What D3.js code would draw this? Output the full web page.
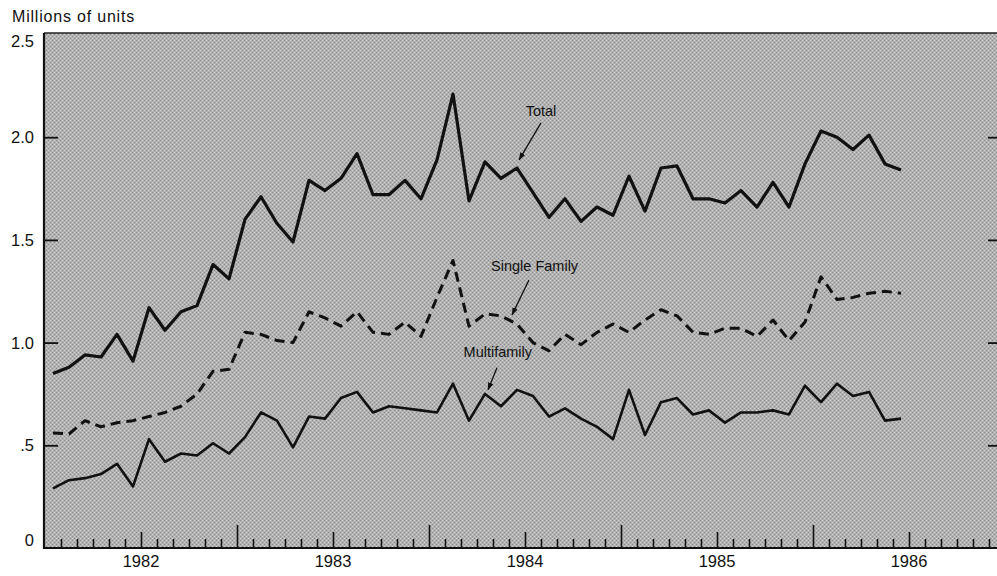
<!DOCTYPE html>
<html><head><meta charset="utf-8">
<script src="https://cdn.jsdelivr.net/npm/d3@7"></script>
<style>body{margin:0;background:#fff;} svg{display:block;}</style>
</head><body><svg id="c" width="997" height="576"></svg>
<script>
// months Jan 1982 .. Jun 1986 (index 0..53)
const months = ["1982-01","1982-02","1982-03","1982-04","1982-05","1982-06","1982-07","1982-08","1982-09","1982-10","1982-11","1982-12",
"1983-01","1983-02","1983-03","1983-04","1983-05","1983-06","1983-07","1983-08","1983-09","1983-10","1983-11","1983-12",
"1984-01","1984-02","1984-03","1984-04","1984-05","1984-06","1984-07","1984-08","1984-09","1984-10","1984-11","1984-12",
"1985-01","1985-02","1985-03","1985-04","1985-05","1985-06","1985-07","1985-08","1985-09","1985-10","1985-11","1985-12",
"1986-01","1986-02","1986-03","1986-04","1986-05","1986-06"];
const total = [0.85,0.88,0.94,0.93,1.04,0.91,1.17,1.06,1.15,1.18,1.38,1.31,
1.60,1.71,1.58,1.49,1.79,1.74,1.80,1.92,1.72,1.72,1.79,1.70,
1.89,2.21,1.69,1.88,1.80,1.85,1.73,1.61,1.70,1.59,1.66,1.62,
1.81,1.64,1.85,1.86,1.70,1.70,1.68,1.74,1.66,1.78,1.66,1.87,
2.03,2.00,1.94,2.01,1.87,1.84];
const singleFamily = [0.56,0.555,0.62,0.59,0.61,0.62,0.64,0.66,0.69,0.75,0.86,0.87,
1.05,1.04,1.01,1.00,1.15,1.12,1.08,1.15,1.05,1.04,1.10,1.03,
1.22,1.40,1.08,1.14,1.13,1.09,1.00,0.96,1.04,0.99,1.05,1.09,
1.05,1.11,1.16,1.13,1.05,1.04,1.07,1.07,1.03,1.11,1.01,1.10,
1.32,1.21,1.22,1.24,1.25,1.24];
const multifamily = [0.29,0.33,0.34,0.36,0.41,0.30,0.53,0.42,0.46,0.45,0.51,0.46,
0.54,0.66,0.62,0.49,0.64,0.63,0.73,0.76,0.66,0.69,0.68,0.67,
0.66,0.80,0.62,0.75,0.69,0.77,0.74,0.64,0.68,0.63,0.59,0.53,
0.77,0.55,0.71,0.73,0.65,0.67,0.61,0.66,0.66,0.67,0.65,0.79,
0.71,0.80,0.74,0.76,0.62,0.63];
const yearLabels = ["1982","1983","1984","1985","1986"];
const yTicks = [0, 0.5, 1.0, 1.5, 2.0, 2.5];
const yTickLabels = ["0", ".5", "1.0", "1.5", "2.0", "2.5"];
const unitLabel = "Millions of units";
// annotations: label position and arrow tail/tip in (month, value) units
const annotations = [
  {text:"Total", lm:31.0, lv:2.104, tm:31.0, tv:2.07, pm:29.63, pv:1.89},
  {text:"Single Family", lm:30.6, lv:1.349, tm:30.25, tv:1.305, pm:29.19, pv:1.135},
  {text:"Multifamily", lm:28.3, lv:0.930, tm:28.25, tv:0.877, pm:27.69, pv:0.770}
];

const svg = d3.select("#c");
const L = 44, R = 997, T = 33, B = 548;
const FONT = "'Liberation Sans', Arial, Helvetica, sans-serif";
const x = d3.scaleLinear().domain([0, (R - 45) / 16]).range([45, R]);
const y = d3.scaleLinear().domain([0, 2.5]).range([B, 34.5]);

// defs
const defs = svg.append("defs");
defs.append("marker").attr("id","arr").attr("viewBox","0 0 10 10").attr("refX",9).attr("refY",5)
  .attr("markerWidth",8).attr("markerHeight",8).attr("orient","auto-start-reverse")
  .attr("markerUnits","userSpaceOnUse")
  .append("path").attr("d","M0,1.5 L10,5 L0,8.5 Z").attr("fill","#111");
const pat = defs.append("pattern").attr("id","tex").attr("width",4).attr("height",4).attr("patternUnits","userSpaceOnUse");
pat.append("rect").attr("width",4).attr("height",4).attr("fill","#b2b2b2");
pat.append("rect").attr("x",0).attr("y",0).attr("width",1).attr("height",1).attr("fill","#8a8a8a");
pat.append("rect").attr("x",2).attr("y",2).attr("width",1).attr("height",1).attr("fill","#8a8a8a");
pat.append("rect").attr("x",2).attr("y",0).attr("width",1).attr("height",1).attr("fill","#d0d0d0");
pat.append("rect").attr("x",0).attr("y",2).attr("width",1).attr("height",1).attr("fill","#d0d0d0");

// background
svg.append("rect").attr("x",L).attr("y",T).attr("width",R-L).attr("height",B-T).attr("fill","url(#tex)");

// top border
svg.append("line").attr("x1",L).attr("x2",R).attr("y1",T).attr("y2",T).attr("stroke","#222").attr("stroke-width",1.5);

// bottom axis with inward ticks
const monthTicks = d3.range(1, Math.floor((R-45)/16)+1);
const xAxis = d3.axisBottom(x).tickValues(monthTicks).tickFormat("").tickSizeOuter(0)
  .tickSizeInner(0);
const gx = svg.append("g").attr("transform",`translate(0,${B})`).call(xAxis);
gx.select(".domain").remove();
gx.selectAll(".tick line").attr("y2", d => d % 12 === 0 ? -23 : (d % 12 === 6 ? -16 : -9))
  .attr("stroke","#111").attr("stroke-width",1.6);
svg.append("line").attr("x1",L).attr("x2",R).attr("y1",B).attr("y2",B).attr("stroke","#111").attr("stroke-width",2.2);

// year labels
svg.append("g").selectAll("text").data(yearLabels).join("text")
  .attr("x",(d,i)=>x(6+12*i)).attr("y",567).attr("text-anchor","middle")
  .attr("font-family",FONT).attr("font-size",16.5).attr("fill","#111").text(d=>d);

// left axis
const yAxis = d3.axisLeft(y).tickValues(yTicks.slice(1,5)).tickFormat("").tickSizeInner(-14).tickSizeOuter(0);
const gy = svg.append("g").attr("transform",`translate(${L},0)`).call(yAxis);
gy.select(".domain").remove();
gy.selectAll(".tick line").attr("stroke","#111").attr("stroke-width",1.8);
svg.append("line").attr("x1",L).attr("x2",L).attr("y1",T).attr("y2",B+1).attr("stroke","#111").attr("stroke-width",2.2);
// right ticks
const yAxisR = d3.axisRight(y).tickValues(yTicks.slice(1,5)).tickFormat("").tickSizeInner(-9).tickSizeOuter(0);
const gyr = svg.append("g").attr("transform",`translate(${R},0)`).call(yAxisR);
gyr.select(".domain").remove();
gyr.selectAll(".tick line").attr("stroke","#111").attr("stroke-width",1.8);

// y labels
svg.append("g").selectAll("text").data(yTicks).join("text")
  .attr("x",34).attr("y",(d,i)=> y(d) + (i===0 ? -2 : (i===yTicks.length-1 ? 12 : 6)))
  .attr("text-anchor","end").attr("font-family",FONT).attr("font-size",16.5).attr("fill","#111")
  .text((d,i)=>yTickLabels[i]);

// unit label
svg.append("text").attr("x",12).attr("y",22).attr("font-family",FONT).attr("font-size",16)
  .attr("letter-spacing",0.8).attr("fill","#111").text(unitLabel);

// lines
const mk = arr => d3.line().x((d,i)=>x(i+0.5)).y(d=>y(d))(arr);
svg.append("path").attr("d",mk(multifamily)).attr("fill","none").attr("stroke","#111").attr("stroke-width",2.6).attr("stroke-linejoin","round");
svg.append("path").attr("d",mk(singleFamily)).attr("fill","none").attr("stroke","#111").attr("stroke-width",3).attr("stroke-dasharray","10,6").attr("stroke-linejoin","round");
svg.append("path").attr("d",mk(total)).attr("fill","none").attr("stroke","#111").attr("stroke-width",3.2).attr("stroke-linejoin","round");

// annotations
const ga = svg.append("g");
annotations.forEach(a=>{
  ga.append("text").attr("x",x(a.lm)).attr("y",y(a.lv)).attr("text-anchor","middle")
    .attr("font-family",FONT).attr("font-size",14.5).attr("fill","#111").text(a.text);
  ga.append("line").attr("x1",x(a.tm)).attr("y1",y(a.tv)).attr("x2",x(a.pm)).attr("y2",y(a.pv))
    .attr("stroke","#111").attr("stroke-width",1.3).attr("marker-end","url(#arr)");
});
</script></body></html>
